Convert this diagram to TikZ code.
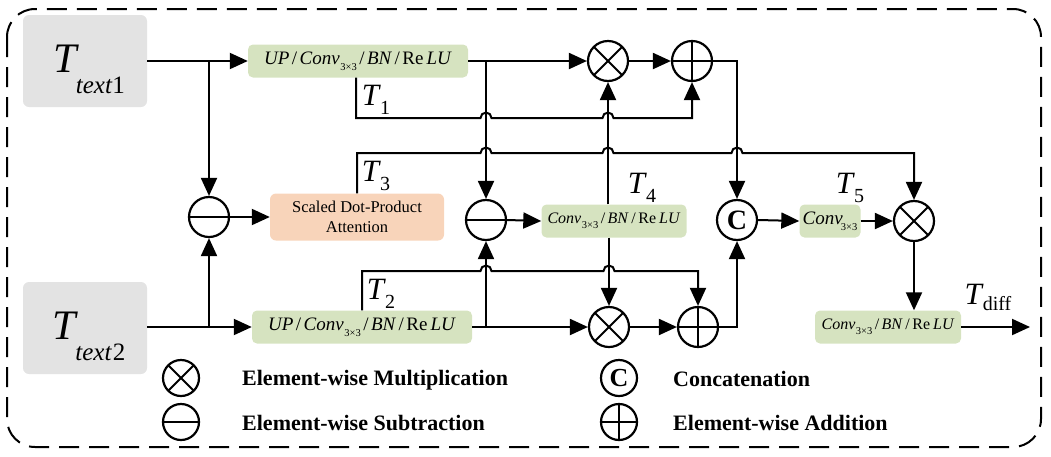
\documentclass[tikz,border=0pt]{standalone}
\usepackage{fontspec}
\setmainfont{Liberation Serif}
\usetikzlibrary{arrows.meta,calc}
\definecolor{boxgreen}{RGB}{214,227,192}
\definecolor{boxgray}{RGB}{227,227,227}
\definecolor{boxpeach}{RGB}{248,212,186}
\newcommand\subsc[1]{\raisebox{-0.3em}{\fontsize{10.5}{10.5}\selectfont #1}}
\newcommand\sls{\kern2.5pt/\kern2.5pt}
\newcommand\convtxt{\textit{Conv}\kern0.5pt\subsc{3×3}\sls\textit{BN}\sls Re\kern3pt\textit{LU}}
\newcommand\upconvtxt{\textit{UP}\sls\convtxt}
\newcommand\Tlab[1]{\fontsize{31}{31}\selectfont\textit{T}\kern-1pt\raisebox{-9pt}{\fontsize{20}{20}\selectfont #1}}
\newcommand\Tbig[1]{\fontsize{42}{42}\selectfont\textit{T}\kern-3pt\raisebox{-21pt}{\fontsize{25}{25}\selectfont #1}}
\begin{document}
\begin{tikzpicture}[x=1pt,y=-1pt,
  ln/.style={line width=2pt},
  arr/.style={line width=2pt,-{Triangle[length=18pt,width=16pt]}},
  gbox/.style={rounded corners=5pt, fill=boxgreen, inner sep=0pt, minimum height=33pt},
  tbox/.style={rounded corners=6pt, fill=boxgray, minimum width=124pt, minimum height=92pt},
  opc/.style={circle, draw, line width=2.2pt, minimum size=40pt, inner sep=0pt},
  legc/.style={circle, draw, line width=2.2pt, minimum size=36pt, inner sep=0pt},
  mulop/.style={path picture={
     \draw[line width=2pt] ([shift={(45:30pt)}]path picture bounding box.center) -- ([shift={(225:30pt)}]path picture bounding box.center);
     \draw[line width=2pt] ([shift={(135:30pt)}]path picture bounding box.center) -- ([shift={(315:30pt)}]path picture bounding box.center);}},
  subop/.style={path picture={
     \draw[line width=2pt] ([xshift=-30pt]path picture bounding box.center) -- ([xshift=30pt]path picture bounding box.center);}},
  addop/.style={path picture={
     \draw[line width=2pt] ([xshift=-30pt]path picture bounding box.center) -- ([xshift=30pt]path picture bounding box.center);
     \draw[line width=2pt] ([yshift=-30pt]path picture bounding box.center) -- ([yshift=30pt]path picture bounding box.center);}},
  tl/.style={inner sep=0pt},
  leg/.style={anchor=west, inner sep=0pt, font=\fontsize{22}{22}\selectfont\bfseries}
]
\useasboundingbox (0,0) rectangle (1051,456);
% frame
\draw[line width=2pt, dash pattern=on 20pt off 10pt, rounded corners=28pt] (7,9) rectangle (1041,447);

% input boxes
\node[tbox] (t1) at (85,61) {};
\node[tl] (t1txt) at (89,69) {\Tbig{\textit{text}1}};
\node[tbox] (t2) at (85,328) {};
\node[tl] (t2txt) at (89,336) {\Tbig{\textit{text}\kern1pt 2}};

% green/peach boxes
\node[gbox, minimum width=220pt, font=\fontsize{19}{19}\selectfont] (up1) at (358,61) {\upconvtxt};
\node[gbox, minimum width=220pt, font=\fontsize{19}{19}\selectfont] (up2) at (362,327) {\upconvtxt};
\node[rounded corners=6pt, fill=boxpeach, minimum width=174pt, minimum height=47pt, align=center,
      font=\fontsize{16.5}{20}\selectfont] (att) at (357,217) {Scaled Dot-Product\\Attention};
\node[gbox, minimum width=145pt, font=\fontsize{16}{16}\selectfont] (conv4) at (614,221) {\convtxt};
\node[gbox, minimum width=61pt, font=\fontsize{19}{19}\selectfont] (conv5) at (830,221) {\textit{Conv}\kern-2pt\subsc{3×3}};
\node[gbox, minimum width=146pt, font=\fontsize{16}{16}\selectfont] (conv6) at (888,327) {\convtxt};

% operators
\node[opc, subop] (sub1) at (209,217) {};
\node[opc, subop] (sub2) at (486,220) {};
\node[opc, mulop] (mul1) at (608,61) {};
\node[opc, addop] (add1) at (692,61) {};
\node[opc, mulop] (mul2) at (609,327) {};
\node[opc, addop] (add2) at (698,327) {};
\node[opc, font=\fontsize{28}{28}\selectfont\bfseries] (cat) at (737,220) {C};
\node[opc, mulop] (mul3) at (914,221) {};

% coordinates
\coordinate (j1) at (209,61);
\coordinate (j2) at (209,327);
\coordinate (j3) at (486,61);
\coordinate (j4) at (486,327);
\coordinate (a1) at (737,61);
\coordinate (a2) at (737,327);
\coordinate (out) at (1030,327);

% input connections
\draw[arr] (t1.east) -- (up1.west);
\draw[arr] (j1) -- (sub1.north);
\draw[arr] (t2.east |- j2) -- (up2.west);
\draw[arr] (j2) -- (sub1.south);
\draw[arr] (sub1.east) -- (att.west);

% top and bottom main paths
\draw[arr] (up1.east) -- (mul1.west);
\draw[arr] (j3) -- (sub2.north);
\draw[arr] (up2.east) -- (mul2.west);
\draw[arr] (j4) -- (sub2.south);
\draw[arr] (sub2.east) -- (conv4.west);
\draw[arr] (conv4.north -| mul1) -- (mul1.south);
\draw[arr] (conv4.south -| mul2) -- (mul2.north);
\draw[arr] (mul1.east) -- (add1.west);
\draw[arr] (mul2.east) -- (add2.west);
\draw[arr] (add1.east) -- (a1) -- (cat.north);
\draw[arr] (add2.east) -- (a2) -- (cat.south);
\draw[arr] (cat.east) -- (conv5.west);
\draw[arr] (conv5.east) -- (mul3.west);
\draw[arr] (mul3.south) -- (conv6.north -| mul3);
\draw[arr] (conv6.east) -- (out);

% T1 skip
\draw[arr] (up1.south -| 356,0) -- (356,118) -- (480.5,118) arc[start angle=180,end angle=360,radius=5.5]
  -- (602.5,118) arc[start angle=180,end angle=360,radius=5.5] -- (692,118) -- (add1.south);
% T3 skip
\draw[arr] (att.north) -- (357,153) -- (480.5,153) arc[start angle=180,end angle=360,radius=5.5]
  -- (602.5,153) arc[start angle=180,end angle=360,radius=5.5]
  -- (731.5,153) arc[start angle=180,end angle=360,radius=5.5] -- (914,153) -- (mul3.north);
% T2 skip
\draw[arr] (up2.north) -- (362,271) -- (480.5,271) arc[start angle=180,end angle=360,radius=5.5]
  -- (603.5,271) arc[start angle=180,end angle=360,radius=5.5] -- (698,271) -- (add2.north);

% labels
\node[tl] (lT1) at (376,100) {\Tlab{1}};
\node[tl] (lT3) at (376,176) {\Tlab{3}};
\node[tl] (lT2) at (381,294) {\Tlab{2}};
\node[tl] (lT4) at (642,188) {\Tlab{4}};
\node[tl] (lT5) at (850,188) {\Tlab{5}};
\node[tl] (lTd) at (988,297) {\fontsize{31}{31}\selectfont\textit{T}\kern-1pt\raisebox{-6pt}{\fontsize{20}{20}\selectfont diff}};

% legend
\node[legc, mulop] (lmul) at (181,378) {};
\node[leg] (lmult) at (242,380) {Element-wise Multiplication};
\node[legc, subop] (lsub) at (181,422) {};
\node[leg] (lsubt) at (242,423) {Element-wise Subtraction};
\node[legc, font=\fontsize{26}{26}\selectfont\bfseries] (lcat) at (619,378) {C};
\node[leg] (lcatt) at (673,379) {Concatenation};
\node[legc, addop] (ladd) at (619,422) {};
\node[leg] (laddt) at (673,423) {Element-wise Addition};
\end{tikzpicture}
\end{document}
